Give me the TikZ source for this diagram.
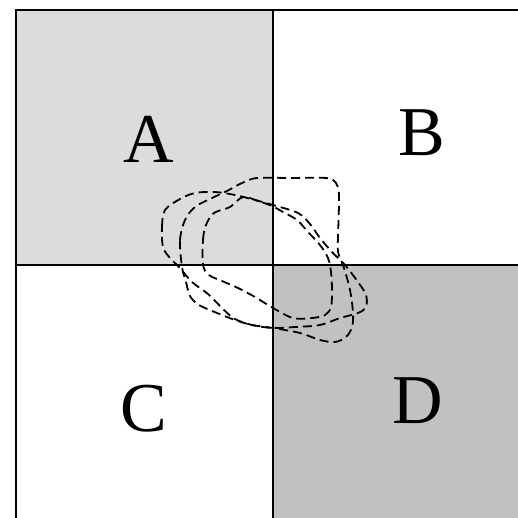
\documentclass[tikz,border=0pt]{standalone}
\usepackage{fontspec}
\setmainfont{Liberation Serif}
\definecolor{cellA}{RGB}{220,220,220}
\definecolor{cellD}{RGB}{193,193,193}
\begin{document}
\begin{tikzpicture}[x=1pt,y=-1pt,
  gridline/.style={line width=1.6pt,black},
  border/.style={line width=2.2pt,black},
  blob/.style={line width=1.8pt,black,dash pattern=on 9pt off 5pt,smooth cycle,tension=0.55},
  lbl/.style={font=\fontsize{70}{80}\selectfont,inner sep=0pt,anchor=base}]
\useasboundingbox (0,0) rectangle (518,517);
\fill[white] (0,0) rectangle (518,517);
\fill[cellA] (16,10) rectangle (273,265);
\fill[cellD] (273,265) rectangle (520,520);
\draw[gridline] (273,10) -- (273,520);
\draw[gridline] (16,265) -- (520,265);
\draw[border] (16,520) -- (16,10) -- (520,10);
\node[lbl] (A) at (149,162) {A};
\node[lbl] (B) at (422,155) {B};
\node[lbl] (C) at (144,431) {C};
\node[lbl] (D) at (418,423) {D};
% blob L (leftmost)
\draw[blob] plot coordinates {(163,247) (162,227) (165,210) (180,199) (195,193) (215,192) (235,195) (255,200) (273,205) (298,213) (310,224) (320,238) (332,252) (345,265) (358,282) (366,295) (366,307) (358,313) (340,318) (320,325) (295,327) (273,328) (252,325) (235,319) (224,310) (208,294) (192,282) (179,267) (170,258)};
% blob M (middle, tall top)
\draw[blob] plot coordinates {(182,267) (180,240) (185,220) (195,207) (212,198) (227,191) (242,183) (257,178) (290,178) (326,178) (336,183) (339,196) (338,237) (338,252) (344,268) (350,290) (353,313) (352,327) (346,337) (335,342) (320,340) (300,333) (273,328) (252,325) (235,320) (217,313) (199,305) (190,296) (186,282)};
% blob I (inner)
\draw[blob] plot coordinates {(203,265) (203,240) (206,225) (214,213) (230,207) (243,197) (258,201) (272,206) (283,212) (297,220) (308,232) (320,245) (328,258) (331,272) (332,290) (331,307) (325,315) (312,318) (293,318) (273,308) (255,297) (238,288) (222,281) (209,275)};
\end{tikzpicture}
\end{document}
